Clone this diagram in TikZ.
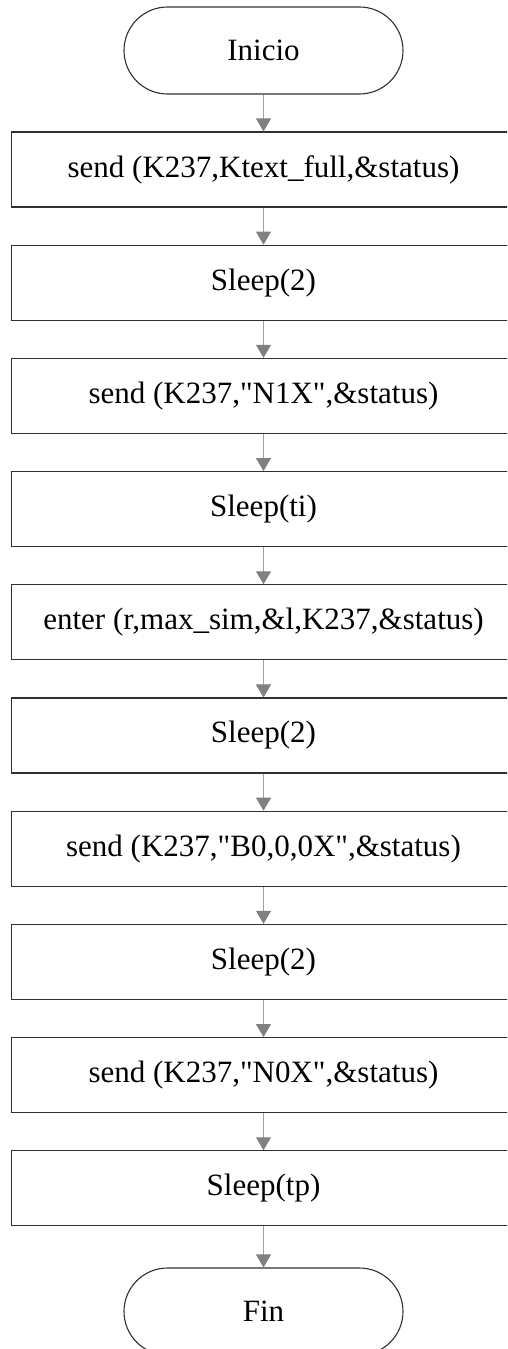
\documentclass[tikz,border=0pt]{standalone}
\usepackage{fontspec}
\setmainfont{Liberation Serif}[Ligatures=TeXOff]
\usetikzlibrary{arrows.meta}
\definecolor{edgegray}{HTML}{303030}
\definecolor{flowline}{HTML}{A0A0A0}
\definecolor{flowhead}{HTML}{808080}
\tikzset{
  terminal/.style={draw=edgegray, line width=1.1pt, rounded corners=43.5pt,
    minimum width=279pt, minimum height=87pt, inner sep=0pt,
    font=\fontsize{31}{37}\selectfont},
  procbox/.style={draw=edgegray, line width=1.1pt,
    minimum width=504pt, minimum height=75pt, inner sep=0pt,
    font=\fontsize{31}{37}\selectfont},
  flow/.style={draw=flowline, line width=1pt,
    -{Triangle[length=13pt,width=15pt,color=flowhead,fill=flowhead]}}
}
\begin{document}
\begin{tikzpicture}
  \useasboundingbox (0pt,0pt) rectangle (507pt,-1349pt);
  \clip (0pt,0pt) rectangle (507pt,-1349pt);
  % start / end terminals
  \node[terminal] (start) at (263.5pt,-50.5pt) {Inicio};
  % process steps
  \node[procbox] (s1)  at (263.5pt,-169.5pt) {send (K237,Ktext\_full,\&status)};
  \node[procbox] (s2)  at (263.5pt,-282.7pt) {Sleep(2)};
  \node[procbox] (s3)  at (263.5pt,-395.9pt) {send (K237,"N1X",\&status)};
  \node[procbox] (s4)  at (263.5pt,-509.1pt) {Sleep(ti)};
  \node[procbox] (s5)  at (263.5pt,-622.3pt) {enter (r,max\_sim,\&l,K237,\&status)};
  \node[procbox] (s6)  at (263.5pt,-735.5pt) {Sleep(2)};
  \node[procbox] (s7)  at (263.5pt,-848.7pt) {send (K237,"B0,0,0X",\&status)};
  \node[procbox] (s8)  at (263.5pt,-961.9pt) {Sleep(2)};
  \node[procbox] (s9)  at (263.5pt,-1075.1pt) {send (K237,"N0X",\&status)};
  \node[procbox] (s10) at (263.5pt,-1188.3pt) {Sleep(tp)};
  \node[terminal] (stop) at (263.5pt,-1311.5pt) {Fin};
  % connectors
  \draw[flow] (start) -- (s1);
  \draw[flow] (s1) -- (s2);
  \draw[flow] (s2) -- (s3);
  \draw[flow] (s3) -- (s4);
  \draw[flow] (s4) -- (s5);
  \draw[flow] (s5) -- (s6);
  \draw[flow] (s6) -- (s7);
  \draw[flow] (s7) -- (s8);
  \draw[flow] (s8) -- (s9);
  \draw[flow] (s9) -- (s10);
  \draw[flow] (s10) -- (stop);
\end{tikzpicture}
\end{document}
